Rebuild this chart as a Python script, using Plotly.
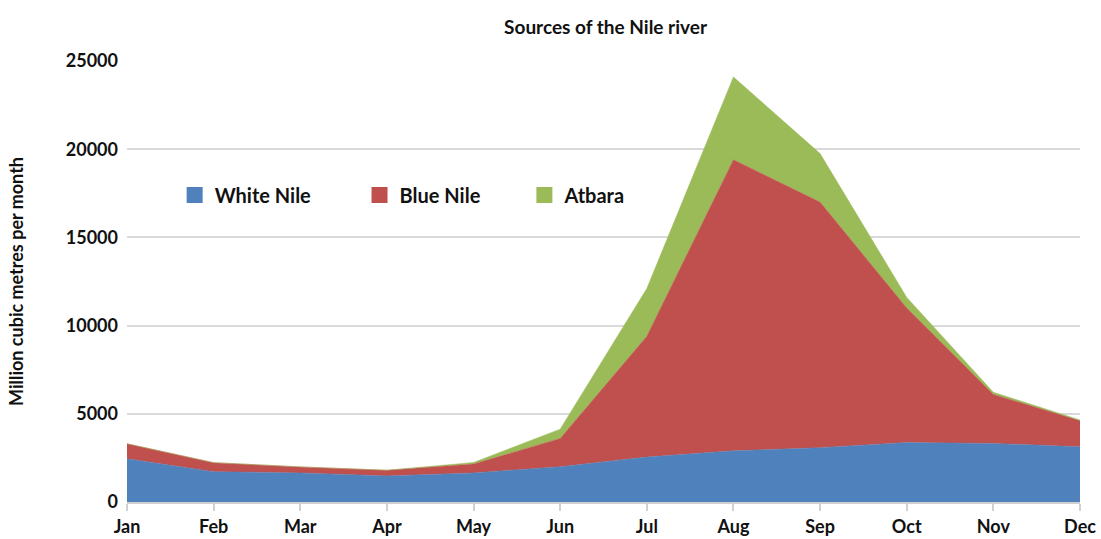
import plotly.graph_objects as go

months = ["Jan", "Feb", "Mar", "Apr", "May", "Jun", "Jul", "Aug", "Sep", "Oct", "Nov", "Dec"]
white_nile = [2450, 1720, 1650, 1480, 1650, 2000, 2550, 2900, 3080, 3370, 3320, 3130]
blue_nile = [850, 510, 340, 320, 500, 1600, 6850, 16500, 13920, 7630, 2780, 1470]
atbara = [0, 0, 0, 0, 90, 530, 2700, 4700, 2750, 600, 120, 50]
y_ticks = [0, 5000, 10000, 15000, 20000, 25000]
y_tick_text = ["0", "5000", "10000", "15000", "20000", "25000"]

series = [
    ("White Nile", white_nile, "#4f81bd"),
    ("Blue Nile", blue_nile, "#c0504d"),
    ("Atbara", atbara, "#9bbb59"),
]

FONT = "Lato"
fig = go.Figure()
for name, vals, col in series:
    fig.add_trace(go.Scatter(
        x=months, y=vals, name=name, stackgroup="one", mode="lines",
        line=dict(color=col, width=0.5), fillcolor=col, showlegend=False,
        hoverinfo="x+y+name",
    ))

legend_x = [0.050, 0.244, 0.417]
for i, (name, vals, col) in enumerate(series):
    lg = "legend" if i == 0 else f"legend{i+1}"
    fig.add_trace(go.Scatter(
        x=[None], y=[None], name=name, mode="markers",
        marker=dict(symbol="square", size=17, color=col),
        legend=lg, showlegend=True,
    ))

legend_common = dict(
    orientation="h", yanchor="middle", y=0.696, xanchor="left",
    font=dict(family=FONT, size=20, color="#111111", weight="bold"),
    bgcolor="rgba(0,0,0,0)", itemwidth=30,
)
fig.update_layout(
    legend=dict(x=legend_x[0], **legend_common),
    legend2=dict(x=legend_x[1], **legend_common),
    legend3=dict(x=legend_x[2], **legend_common),
)

fig.update_layout(
    width=1101, height=539,
    margin=dict(l=127, r=21, t=61, b=37),
    paper_bgcolor="white", plot_bgcolor="white",
    title=dict(text="Sources of the Nile river", x=0.55, xanchor="center",
               y=0.95, yanchor="middle",
               font=dict(family=FONT, size=19, color="#111111", weight="bold")),
    xaxis=dict(
        range=[0, 11], showgrid=False, showline=True, linecolor="#d0d0d0", linewidth=2,
        ticks="outside", ticklen=7, tickcolor="#d0d0d0", tickwidth=2,
        tickfont=dict(family=FONT, size=18, color="#111111", weight="bold"),
        fixedrange=True, automargin=False,
    ),
    yaxis=dict(
        range=[0, 25000], tickvals=y_ticks, ticktext=y_tick_text,
        showgrid=True, gridcolor="#d9d9d9", gridwidth=2, zeroline=False,
        tickfont=dict(family=FONT, size=18, color="#111111", weight="bold"),
        ticks="", ticklabelstandoff=8, automargin=False,
        title=dict(text="Million cubic metres per month",
                   font=dict(family=FONT, size=18, color="#111111", weight="bold"),
                   standoff=37),
    ),
)

fig.write_html("out.html")
